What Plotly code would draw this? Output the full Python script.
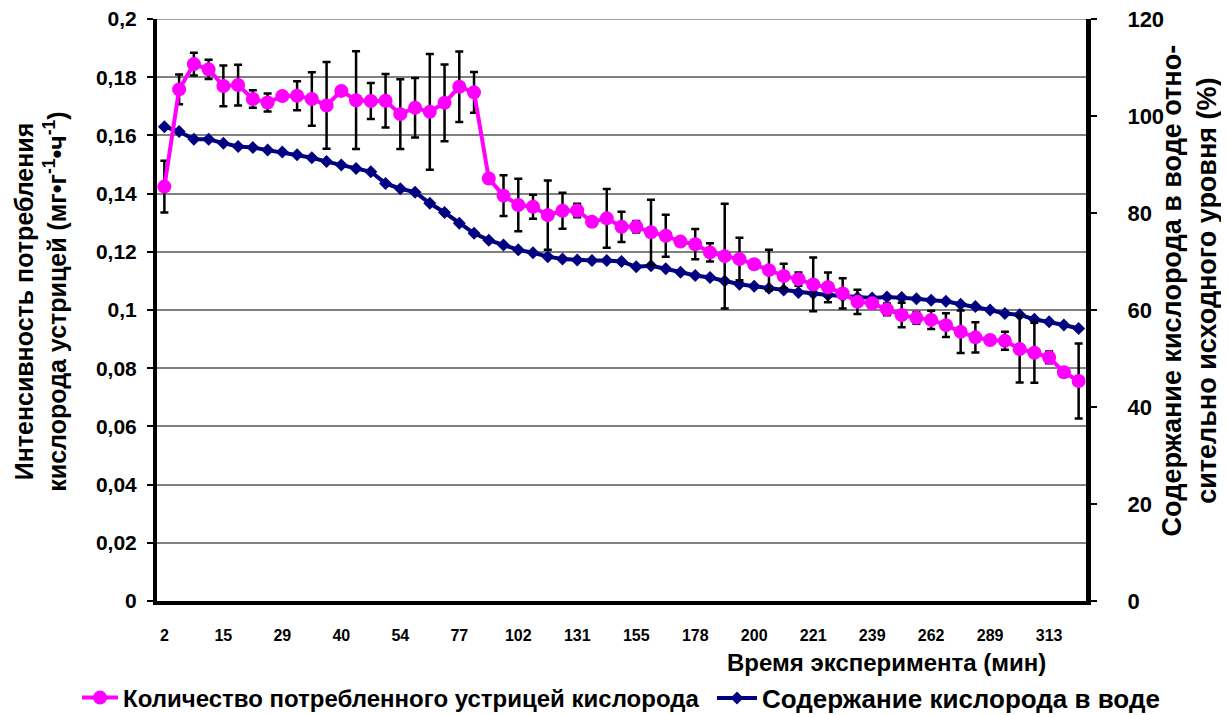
import plotly.graph_objects as go

# x tick labels (every 4th category of 63 time points)
tick_labels = ["2", "15", "29", "40", "54", "77", "102", "131", "155", "178",
               "200", "221", "239", "262", "289", "313"]

# Oxygen consumption intensity (left axis, mg g-1 h-1)
consumption = [0.1424, 0.1758, 0.1845, 0.1827, 0.1770, 0.1773, 0.1725, 0.1713, 0.1735, 0.1736,
               0.1725, 0.1703, 0.1753, 0.1721, 0.1718, 0.1719, 0.1673, 0.1695, 0.1681, 0.1712,
               0.1767, 0.1748, 0.1452, 0.1393, 0.1361, 0.1355, 0.1326, 0.1341, 0.1342, 0.1303,
               0.1315, 0.1286, 0.1286, 0.1267, 0.1255, 0.1235, 0.1226, 0.1198, 0.1185, 0.1175,
               0.1157, 0.1137, 0.1117, 0.1106, 0.1088, 0.1078, 0.1057, 0.1028, 0.1023, 0.1002,
               0.0983, 0.0973, 0.0966, 0.0948, 0.0925, 0.0906, 0.0897, 0.0894, 0.0866, 0.0853,
               0.0837, 0.0786, 0.0756]

consumption_err = [0.0089, 0.0051, 0.0039, 0.0033, 0.0070, 0.0070, 0.0030, 0.0031, 0.0010, 0.0050,
                   0.0092, 0.0149, 0.0010, 0.0168, 0.0062, 0.0092, 0.0120, 0.0102, 0.0199, 0.0132,
                   0.0121, 0.0070, 0.0010, 0.0070, 0.0090, 0.0041, 0.0119, 0.0062, 0.0023, 0.0010,
                   0.0101, 0.0052, 0.0020, 0.0112, 0.0072, 0.0010, 0.0052, 0.0031, 0.0180, 0.0073,
                   0.0010, 0.0070, 0.0042, 0.0023, 0.0092, 0.0051, 0.0052, 0.0042, 0.0010, 0.0020,
                   0.0042, 0.0020, 0.0031, 0.0041, 0.0073, 0.0052, 0.0010, 0.0031, 0.0115, 0.0103,
                   0.0020, 0.0010, 0.0129]

# Oxygen content in water (right axis, % of initial)
oxygen = [97.8, 96.8, 95.2, 95.2, 94.4, 93.7, 93.5, 93.0, 92.6, 92.0,
          91.4, 90.6, 89.9, 89.2, 88.5, 86.1, 85.0, 84.3, 82.0, 80.1,
          77.9, 75.8, 74.4, 73.4, 72.4, 71.8, 71.0, 70.5, 70.3, 70.2,
          70.2, 70.0, 68.9, 69.1, 68.5, 67.8, 67.1, 66.7, 66.0, 65.3,
          64.9, 64.5, 64.1, 63.6, 63.4, 63.1, 62.9, 62.6, 62.5, 62.7,
          62.6, 62.3, 62.0, 61.8, 61.2, 60.7, 60.0, 59.3, 59.0, 58.1,
          57.6, 56.9, 56.2]

left_ticks = [0, 0.02, 0.04, 0.06, 0.08, 0.1, 0.12, 0.14, 0.16, 0.18, 0.2]
left_tick_text = ["0", "0,02", "0,04", "0,06", "0,08", "0,1", "0,12", "0,14", "0,16", "0,18", "0,2"]
right_ticks = [0, 20, 40, 60, 80, 100, 120]

idx = list(range(len(consumption)))
tick_idx = idx[::4][:len(tick_labels)]

FONT = "Liberation Sans, Arial, sans-serif"
GRID = "#808080"


def bfont(size):
    return dict(family=FONT, size=size, color="black", weight="bold")


fig = go.Figure()

fig.add_trace(go.Scatter(
    x=idx, y=oxygen, yaxis="y", name="Содержание кислорода в воде",
    mode="lines+markers",
    line=dict(color="#000080", width=4),
    marker=dict(symbol="diamond", size=10, color="#000080"),
    legend="legend2",
))

fig.add_trace(go.Scatter(
    x=idx, y=consumption, yaxis="y2", name="Количество потребленного устрицей кислорода",
    mode="lines+markers",
    line=dict(color="#FF00FF", width=4),
    marker=dict(symbol="circle", size=14, color="#FF00FF"),
    error_y=dict(type="data", array=consumption_err, visible=True,
                 color="black", thickness=2.5, width=4),
    legend="legend",
))

fig.update_layout(
    width=1221, height=707,
    margin=dict(l=149, r=143, t=11, b=114, autoexpand=False),
    paper_bgcolor="white", plot_bgcolor="white",
    font=bfont(20),
    showlegend=True,
    legend=dict(orientation="h", x=-0.0861, xanchor="left", y=-0.1667, yanchor="middle",
                font=bfont(24), itemwidth=36, bgcolor="rgba(0,0,0,0)"),
    legend2=dict(orientation="h", x=0.5974, xanchor="left", y=-0.1667, yanchor="middle",
                 font=bfont(26), itemwidth=40, bgcolor="rgba(0,0,0,0)"),
    xaxis=dict(
        range=[-0.5, len(consumption) - 0.5],
        tickmode="array", tickvals=tick_idx, ticktext=tick_labels,
        tickfont=bfont(16),
        ticks="", ticklabelstandoff=17, ticklabeloverflow="allow",
        showline=True, linecolor="black", linewidth=4,
        showgrid=False, zeroline=False,
    ),
    yaxis=dict(
        side="right", range=[0, 120],
        tickmode="array", tickvals=right_ticks,
        tickfont=bfont(22),
        ticks="outside", ticklen=6, tickwidth=2, tickcolor="black",
        ticklabelstandoff=26, ticklabeloverflow="allow",
        showline=True, linecolor="black", linewidth=5,
        showgrid=False, zeroline=False,
    ),
    yaxis2=dict(
        side="left", overlaying="y", range=[0, 0.2],
        tickmode="array", tickvals=left_ticks, ticktext=left_tick_text,
        tickfont=bfont(21),
        ticks="outside", ticklen=6, tickwidth=2, tickcolor="black",
        ticklabelstandoff=6, ticklabeloverflow="allow",
        showline=True, linecolor="black", linewidth=4,
        showgrid=True, gridcolor=GRID, gridwidth=1.5, zeroline=False,
    ),
    shapes=[
        # top gridline at the last left-axis tick (plotly omits the edge gridline)
        dict(type="line", xref="paper", yref="y2", x0=0, x1=1,
             y0=left_ticks[-1], y1=left_ticks[-1],
             line=dict(color=GRID, width=1.5), layer="below"),
    ],
    annotations=[
        dict(text="Интенсивность потребления<br>кислорода устрицей (мг•г<sup>-1</sup>•ч<sup>-1</sup>)",
             xref="paper", yref="paper", x=-0.1255, y=0.515, xanchor="center", yanchor="middle",
             textangle=-90, showarrow=False, font=bfont(25)),
        dict(text="Содержание кислорода в воде отно-<br>сительно исходного уровня (%)",
             xref="paper", yref="paper", x=1.1115, y=0.533, xanchor="center", yanchor="middle",
             textangle=-90, showarrow=False, font=bfont(27)),
        dict(text="Время эксперимента (мин)",
             xref="paper", yref="paper", x=0.785, y=-0.1065, xanchor="center", yanchor="middle",
             showarrow=False, font=bfont(24)),
    ],
)

fig.write_html("out.html")
